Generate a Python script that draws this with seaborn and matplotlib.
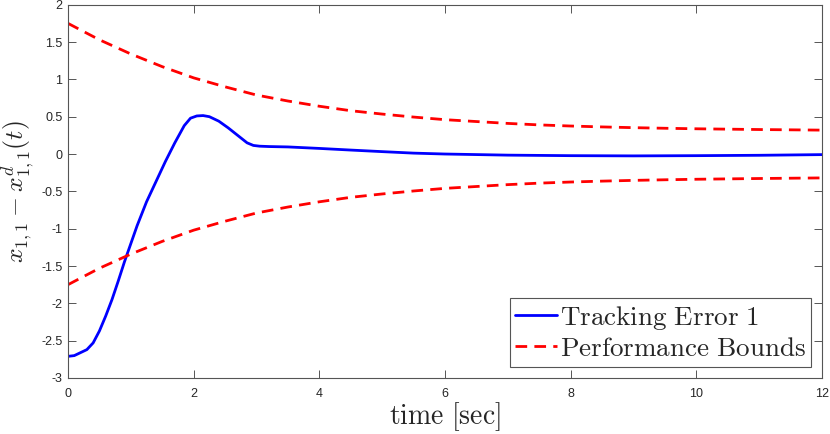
import numpy as np
import pandas as pd
import seaborn as sns
import matplotlib.pyplot as plt

# tracking error 1
t_err = [0.0, 0.1, 0.2, 0.3, 0.4, 0.5, 0.6, 0.7, 0.8, 0.9, 1.0, 1.1, 1.25, 1.4,
         1.55, 1.7, 1.85, 1.95, 2.05, 2.15, 2.25, 2.4, 2.55, 2.7, 2.85, 2.95,
         3.05, 3.2, 3.5, 4.0, 4.5, 5.0, 5.5, 6.0, 7.0, 8.0, 9.0, 10.0, 11.0, 12.0]
err = [-2.71, -2.70, -2.66, -2.62, -2.53, -2.37, -2.17, -1.95, -1.70, -1.44, -1.20,
       -0.96, -0.64, -0.37, -0.10, 0.15, 0.38, 0.48, 0.51, 0.515, 0.50, 0.44, 0.35,
       0.25, 0.15, 0.115, 0.105, 0.10, 0.095, 0.075, 0.053, 0.032, 0.012, 0.0,
       -0.015, -0.022, -0.025, -0.022, -0.017, -0.008]

# performance bounds
t_bnd = [0.0, 0.5, 1.0, 1.5, 2.0, 2.5, 3.0, 3.5, 4.0, 4.5, 5.0, 5.5, 6.0, 6.5,
         7.0, 7.5, 8.0, 8.5, 9.0, 9.5, 10.0, 10.5, 11.0, 11.5, 12.0]
upper = [1.75, 1.53, 1.34, 1.17, 1.02, 0.90, 0.79, 0.71, 0.64, 0.58, 0.535, 0.495,
         0.46, 0.435, 0.41, 0.39, 0.375, 0.363, 0.353, 0.345, 0.338, 0.333, 0.328,
         0.324, 0.32]
lower = [-1.75, -1.53, -1.34, -1.17, -1.02, -0.90, -0.79, -0.71, -0.64, -0.58, -0.535,
         -0.495, -0.46, -0.435, -0.41, -0.39, -0.375, -0.363, -0.353, -0.345, -0.338,
         -0.333, -0.328, -0.324, -0.32]

x_ticks = [0, 2, 4, 6, 8, 10, 12]
y_ticks = [-3, -2.5, -2, -1.5, -1, -0.5, 0, 0.5, 1, 1.5, 2]
y_tick_labels = ["-3", "-2.5", "-2", "-1.5", "-1", "-0.5", "0", "0.5", "1", "1.5", "2"]

err_df = pd.DataFrame({"t": t_err, "e": err})
bnd_df = pd.DataFrame({"t": t_bnd, "up": upper, "low": lower})

sns.set_style("ticks")
plt.rcParams["font.family"] = ["Liberation Sans", "DejaVu Sans"]
plt.rcParams["mathtext.fontset"] = "cm"
plt.rcParams["axes.unicode_minus"] = False

fig = plt.figure(figsize=(8.3, 4.34), dpi=100)
ax = fig.add_axes([68 / 830, 56 / 434, 754 / 830, 373.3 / 434])

dash = (0, (4.2, 2.6))
sns.lineplot(data=err_df, x="t", y="e", ax=ax, color="#0000ff", linewidth=2,
             label=r"$\mathrm{Tracking\ Error\ 1}$")
sns.lineplot(data=bnd_df, x="t", y="up", ax=ax, color="#ff0000", linewidth=2,
             linestyle=dash, label=r"$\mathrm{Performance\ Bounds}$")
sns.lineplot(data=bnd_df, x="t", y="low", ax=ax, color="#ff0000", linewidth=2,
             linestyle=dash, legend=False)

ax.set_xlim(0, 12)
ax.set_ylim(-3, 2)
ax.set_xticks(x_ticks)
ax.set_xticklabels([str(v) for v in x_ticks])
ax.set_yticks(y_ticks)
ax.set_yticklabels(y_tick_labels)
ax.tick_params(direction="in", length=5.5, width=0.7, colors="#555555",
               labelcolor="#262626", labelsize=9, top=True, right=True)
ax.tick_params(axis="x", pad=7)
ax.tick_params(axis="y", pad=4)
for s in ax.spines.values():
    s.set_visible(True)
    s.set_color("#555555")
    s.set_linewidth(0.8)

ax.set_xlabel(r"$\mathrm{time\ [sec]}$", size=20, labelpad=0)
ax.set_ylabel(r"$x_{1,1}-x_{1,1}^{d}(t)$", size=18.5)
ax.yaxis.set_label_coords(-0.040, 0.5)

leg = ax.legend(loc="lower right", fontsize=19.5, handlelength=1.55, handletextpad=0.1,
                borderpad=0.2, labelspacing=0.15, borderaxespad=0.4, fancybox=False,
                framealpha=1, edgecolor="#555555")
leg.get_frame().set_linewidth(0.8)

fig.savefig("out.png", dpi=100)
